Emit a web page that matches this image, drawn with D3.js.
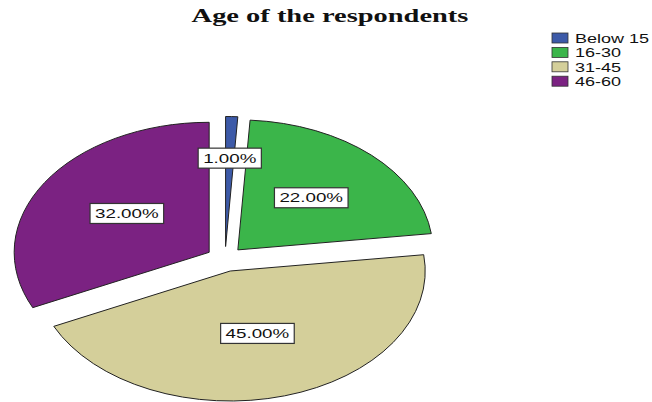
<!DOCTYPE html>
<html><head><meta charset="utf-8">
<script src="https://cdn.jsdelivr.net/npm/d3@7"></script>
<style>body{margin:0;background:#fff}svg{display:block}</style>
</head><body>
<svg id="chart" width="652" height="402"></svg>
<script>
const title = "Age of the respondents";
const categories = ["Below 15", "16-30", "31-45", "46-60"];
const values = [1, 22, 45, 32];
const colors = ["#3d5aa8", "#3bb54a", "#d4cf9a", "#7b2282"];
const labels = values.map(v => v.toFixed(2) + "%");

const SX = 1.5;              // horizontal stretch of the original picture
const cx = 225, cy = 259, ry = 130, rx = 195;
const explode = 12.5;
const svg = d3.select("#chart");

const pie = d3.pie().sort(null).value(d => d).startAngle(0).endAngle(2 * Math.PI);
const arcs = pie(values);
const arc = d3.arc().innerRadius(0).outerRadius(ry);

const g = svg.append("g").attr("transform", `translate(${cx},${cy}) scale(${rx / ry},1)`);
g.selectAll("path").data(arcs).join("path")
  .attr("d", arc)
  .attr("transform", d => {
    const m = (d.startAngle + d.endAngle) / 2;
    return `translate(${explode * Math.sin(m)},${-explode * Math.cos(m)})`;
  })
  .attr("fill", (d, i) => colors[i])
  .attr("stroke", "#222")
  .attr("stroke-width", 1)
  .attr("vector-effect", "non-scaling-stroke");

function stretchText(sel, k) {
  sel.each(function () {
    const len = this.getComputedTextLength();
    d3.select(this).attr("textLength", len * (k || SX)).attr("lengthAdjust", "spacingAndGlyphs");
  });
}

// slice labels
const lg = svg.append("g");
arcs.forEach((d, i) => {
  const m = (d.startAngle + d.endAngle) / 2;
  const frac = values[i] < 5 ? 0.68 : (values[i] > 40 ? 0.5 : (i === 1 ? 0.55 : 0.5));
  const px = cx + (rx / ry) * (explode + frac * ry) * Math.sin(m);
  const py = cy - (explode + frac * ry) * Math.cos(m) - (values[i] > 25 && values[i] < 40 ? 4 : 0);
  const grp = lg.append("g");
  const t = grp.append("text")
    .attr("x", px).attr("y", py + 4.5)
    .attr("text-anchor", "middle")
    .attr("font-family", "Liberation Sans, Arial, sans-serif")
    .attr("font-size", 12.5)
    .attr("fill", "#111")
    .text(labels[i]);
  stretchText(t);
  const tw = +t.attr("textLength");
  grp.insert("rect", "text")
    .attr("x", px - tw / 2 - 5).attr("y", py - 10)
    .attr("width", tw + 10).attr("height", 20)
    .attr("fill", "#fff").attr("stroke", "#333").attr("stroke-width", 1.2);
});

// title
const tt = svg.append("text")
  .attr("x", 330).attr("y", 22)
  .attr("text-anchor", "middle")
  .attr("font-family", "Liberation Serif, Times New Roman, serif")
  .attr("font-weight", "bold")
  .attr("font-size", 18)
  .attr("fill", "#111")
  .text(title);
stretchText(tt, 1.58);

// legend
const leg = svg.append("g").attr("transform", "translate(552,33)");
categories.forEach((c, i) => {
  const y = i * 14.4;
  leg.append("rect").attr("x", 0).attr("y", y).attr("width", 16).attr("height", 10)
    .attr("fill", colors[i]).attr("stroke", "#333").attr("stroke-width", 0.8);
  const t = leg.append("text").attr("x", 23).attr("y", y + 10)
    .attr("font-family", "Liberation Sans, Arial, sans-serif")
    .attr("font-size", 12).attr("fill", "#111").text(c);
  stretchText(t);
});
</script>
</body></html>
